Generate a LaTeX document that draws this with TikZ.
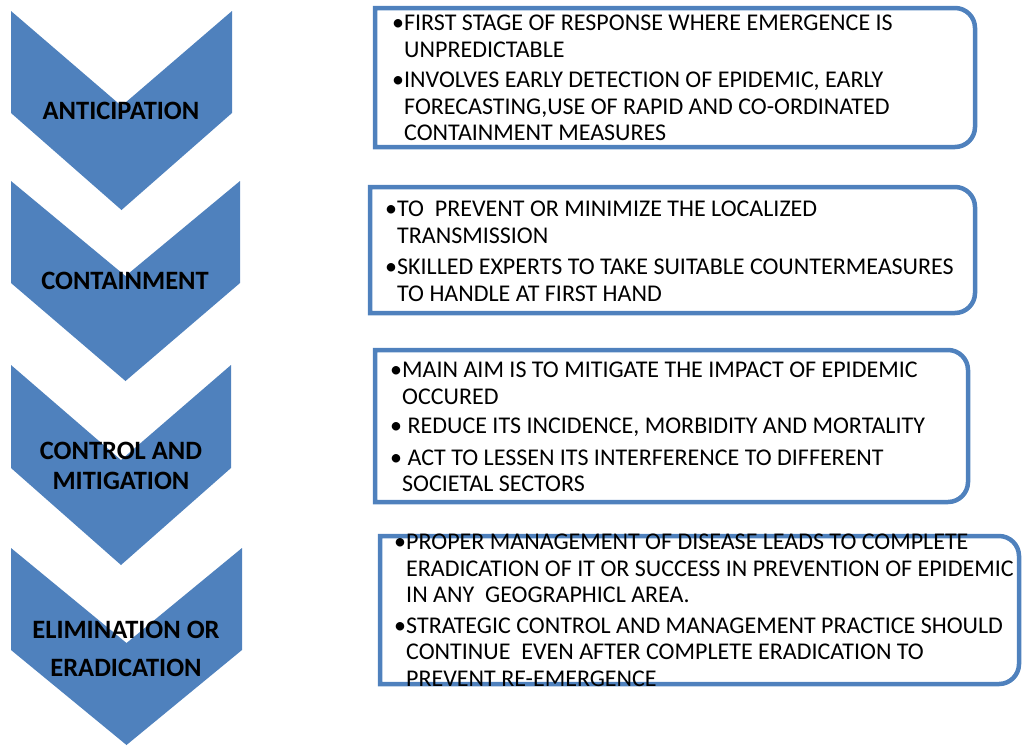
\documentclass[tikz,border=0pt]{standalone}
\usepackage{fontspec}
\setmainfont{Carlito}
\definecolor{chevblue}{RGB}{79,129,189}

% bullet and hanging indent for the point lists
\newcommand{\bul}{\makebox[12pt][l]{•}}
\newcommand{\nxt}{\hspace*{12pt}}

\begin{document}
\begin{tikzpicture}[x=1pt, y=-1pt]
    \tikzstyle{chevron} = [fill=chevblue]
    \tikzstyle{stage} = [font=\fontsize{26.5}{30}\selectfont\bfseries, align=center, inner sep=0pt]
    \tikzstyle{panel} = [draw=chevblue, line width=4.5pt]
    \tikzstyle{points} = [font=\fontsize{24}{26.5}\selectfont, align=left, anchor=north west, inner sep=0pt]
    \useasboundingbox (0,0) rectangle (1022,745);

    % chevrons
    \fill [chevron] (11,11) -- (121.5,106) -- (232,11) -- (232,113) -- (121.5,210) -- (11,113) -- cycle;
    \fill [chevron] (11,181) -- (125.5,276) -- (240,181) -- (240,283) -- (125.5,381) -- (11,283) -- cycle;
    \fill [chevron] (11,365) -- (121,460) -- (231,365) -- (231,468) -- (121,565) -- (11,468) -- cycle;
    \fill [chevron] (11,548) -- (126.5,643) -- (242,548) -- (242,650) -- (126.5,745) -- (11,650) -- cycle;

    \node [stage] (anticipation) at (121,111) {ANTICIPATION};
    \node [stage] (containment) at (125,281) {CONTAINMENT};
    \node [stage] (control) at (121,466) {CONTROL AND\\MITIGATION};
    \node [stage] (elimination) at (126,649) {ELIMINATION OR\\[8pt]ERADICATION};

    % panels, square on the left and rounded on the right
    \draw [panel] (375,8) -- (955,8) .. controls (966,8) and (975,17) .. (975,28)
        -- (975,127) .. controls (975,138) and (966,147) .. (955,147) -- (375,147) -- cycle;
    \draw [panel] (370,187) -- (955,187) .. controls (966,187) and (975,196) .. (975,207)
        -- (975,293) .. controls (975,304) and (966,313) .. (955,313) -- (370,313) -- cycle;
    \draw [panel] (375,350) -- (948,350) .. controls (959,350) and (968,359) .. (968,370)
        -- (968,482) .. controls (968,493) and (959,502) .. (948,502) -- (375,502) -- cycle;
    \draw [panel] (380,536) -- (999,536) .. controls (1010,536) and (1019,545) .. (1019,556)
        -- (1019,664) .. controls (1019,675) and (1010,684) .. (999,684) -- (380,684) -- cycle;

    % point lists
    \node [points] (antpoints) at (392,15) {%
        \bul FIRST STAGE OF RESPONSE WHERE EMERGENCE IS\\
        \nxt UNPREDICTABLE\\[4pt]
        \bul INVOLVES EARLY DETECTION OF EPIDEMIC, EARLY\\
        \nxt FORECASTING,USE OF RAPID AND CO-ORDINATED\\
        \nxt CONTAINMENT MEASURES};
    \node [points] (conpoints) at (385,201) {%
        \bul TO\ \ PREVENT OR MINIMIZE THE LOCALIZED\\
        \nxt TRANSMISSION\\[5pt]
        \bul SKILLED EXPERTS TO TAKE SUITABLE COUNTERMEASURES\\
        \nxt TO HANDLE AT FIRST HAND};
    \node [points] (ctlpoints) at (390,362) {%
        \bul MAIN AIM IS TO MITIGATE THE IMPACT OF EPIDEMIC\\
        \nxt OCCURED\\[3pt]
        \bul\ REDUCE ITS INCIDENCE, MORBIDITY AND MORTALITY\\[5pt]
        \bul\ ACT TO LESSEN ITS INTERFERENCE TO DIFFERENT\\
        \nxt SOCIETAL SECTORS};
    \node [points] (elipoints) at (394,534) {%
        \bul PROPER MANAGEMENT OF DISEASE LEADS TO COMPLETE\\
        \nxt ERADICATION OF IT OR SUCCESS IN PREVENTION OF EPIDEMIC\\
        \nxt IN ANY\ \ GEOGRAPHICL AREA.\\[4pt]
        \bul STRATEGIC CONTROL AND MANAGEMENT PRACTICE SHOULD\\
        \nxt CONTINUE\ \ EVEN AFTER COMPLETE ERADICATION TO\\
        \nxt PREVENT RE-EMERGENCE};
\end{tikzpicture}
\end{document}
